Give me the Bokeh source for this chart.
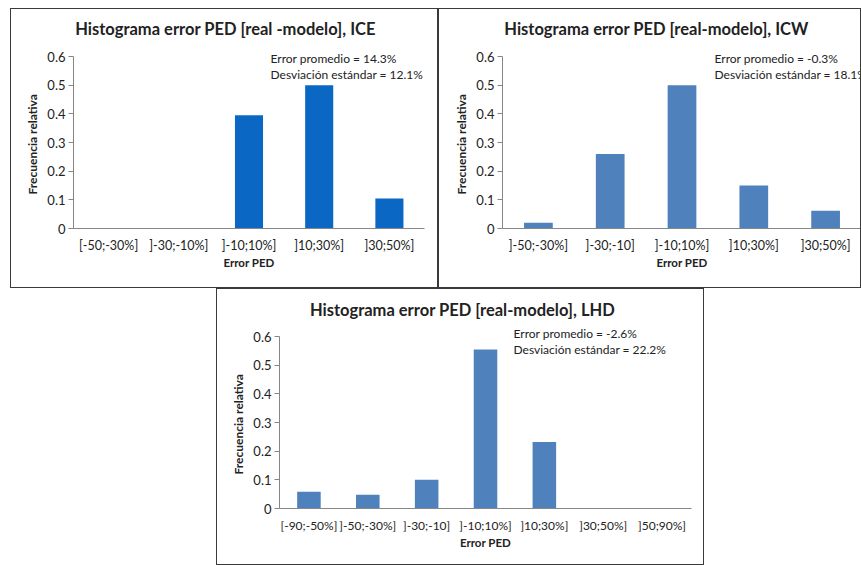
from bokeh.plotting import figure
from bokeh.models import Label, Title, FactorRange, Range1d, Spacer, FixedTicker, NumeralTickFormatter
from bokeh.layouts import column, row
from bokeh.embed import file_html
from bokeh.resources import INLINE

# Histogram data: relative frequency of PED error per bin
ice_bins = ["[-50;-30%]", "]-30;-10%]", "]-10;10%]", "]10;30%]", "]30;50%]"]
ice_freq = [0.0, 0.0, 0.395, 0.5, 0.105]
ice_stats = ["Error  promedio = 14.3%", "Desviación estándar = 12.1%"]

icw_bins = ["]-50;-30%]", "]-30;-10]", "]-10;10%]", "]10;30%]", "]30;50%]"]
icw_freq = [0.02, 0.26, 0.5, 0.15, 0.062]
icw_stats = ["Error  promedio = -0.3%", "Desviación estándar = 18.1%"]

lhd_bins = ["[-90;-50%]", "]-50;-30%]", "]-30;-10]", "]-10;10%]", "]10;30%]", "]30;50%]", "]50;90%]"]
lhd_freq = [0.058, 0.048, 0.1, 0.555, 0.232, 0.0, 0.0]
lhd_stats = ["Error  promedio = -2.6%", "Desviación estándar = 22.2%"]

y_ticks = [0, 0.1, 0.2, 0.3, 0.4, 0.5, 0.6]
Y_MAX = 0.6

FONT = "Lato"
AXIS_GREY = "#868686"
TEXT = "#222222"
SCALE_PX = 172  # pixel height of the 0 .. 0.6 axis span


def panel(title, bins, freq, stats, color, w, h, borders, title_xy, stats_xy, xlabel_size="12.5px"):
    left, right, bottom = borders
    frame_h = h - bottom
    # the frame reaches the top edge so the title and notes can sit inside it;
    # the y axis itself is bounded to 0 .. 0.6
    p = figure(width=w, height=h, x_range=FactorRange(*bins),
               y_range=Range1d(0, Y_MAX * frame_h / SCALE_PX),
               output_backend="svg", toolbar_location=None,
               min_border_left=left, min_border_right=right,
               min_border_top=0, min_border_bottom=bottom)
    p.vbar(x=bins, top=freq, width=0.4, fill_color=color, line_color=None)

    p.outline_line_color = None
    p.xgrid.grid_line_color = None
    p.ygrid.grid_line_color = None
    p.background_fill_color = "white"
    p.border_fill_color = "white"

    ya = p.yaxis[0]
    ya.bounds = (0, Y_MAX)
    ya.ticker = FixedTicker(ticks=y_ticks)
    ya.formatter = NumeralTickFormatter(format="0.[0]")
    ya.axis_line_color = AXIS_GREY
    ya.major_tick_line_color = AXIS_GREY
    ya.major_tick_out = 5
    ya.major_tick_in = 0
    ya.minor_tick_line_color = None
    ya.major_label_standoff = 3
    ya.major_label_text_font = FONT
    ya.major_label_text_font_size = "13px"
    ya.major_label_text_color = TEXT

    # y axis title, centred on the 0 .. 0.6 span rather than on the whole frame
    p.add_layout(Title(text="Frecuencia relativa", align="left", offset=SCALE_PX / 2 - 52,
                       standoff=10, text_font=FONT, text_font_style="bold",
                       text_font_size="12px", text_color=TEXT), "left")

    xa = p.xaxis[0]
    xa.axis_line_color = AXIS_GREY
    xa.major_tick_line_color = None
    xa.major_tick_out = 0
    xa.major_tick_in = 0
    xa.minor_tick_line_color = None
    xa.major_label_standoff = 9
    xa.major_label_text_font = FONT
    xa.major_label_text_font_size = xlabel_size
    xa.major_label_text_color = TEXT
    xa.axis_label = "Error PED"
    xa.axis_label_text_font = FONT
    xa.axis_label_text_font_style = "bold"
    xa.axis_label_text_font_size = "11.5px"
    xa.axis_label_text_color = TEXT
    xa.axis_label_standoff = 0

    # screen units are measured from the frame's bottom-left corner;
    # convert from panel pixels (x from left edge, y from top edge)
    tx, ty = title_xy
    p.add_layout(Label(x=tx - left, y=frame_h - ty, x_units="screen", y_units="screen",
                       text=title, text_font=FONT, text_font_style="bold",
                       text_font_size="16.5px", text_align="center", text_baseline="middle",
                       text_color=TEXT))
    sx, sy = stats_xy
    for i, line in enumerate(stats):
        p.add_layout(Label(x=sx - left, y=frame_h - (sy + 16 * i),
                           x_units="screen", y_units="screen",
                           text=line, text_font=FONT, text_font_size="12px",
                           text_align="left", text_baseline="middle", text_color=TEXT))

    p.styles = {"border": "1.5px solid #3a3a3a", "box-sizing": "border-box"}
    return p


p1 = panel("Histograma error PED [real -modelo], ICE", ice_bins, ice_freq, ice_stats, "#0A68C4",
           428, 280, (62, 15, 61), (214, 19), (259, 49))
p2 = panel("Histograma error PED [real-modelo], ICW", icw_bins, icw_freq, icw_stats, "#4F81BD",
           423, 280, (63, 1, 61), (217, 19), (275, 49))
p3 = panel("Histograma error PED [real-modelo], LHD", lhd_bins, lhd_freq, lhd_stats, "#4F81BD",
           488, 277, (62, 14, 58), (245, 20), (296, 44), xlabel_size="12px")

layout = column(Spacer(height=8),
                row(Spacer(width=10), p1, p2),
                row(Spacer(width=216), p3),
                spacing=0)
layout.styles = {"background-color": "white"}

open("out.html", "w").write(file_html(layout, INLINE))
